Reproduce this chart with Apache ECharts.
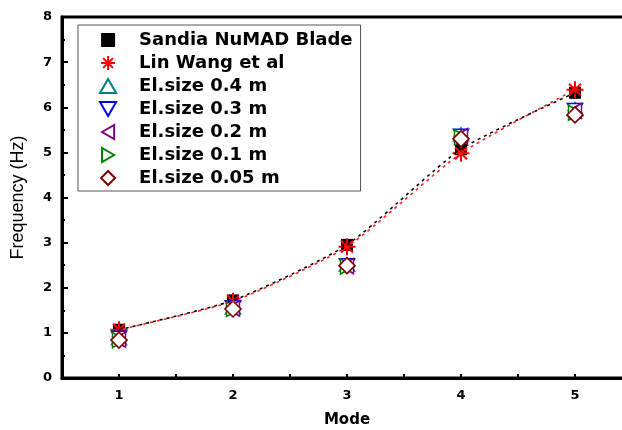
<!DOCTYPE html>
<html>
<head>
<meta charset="utf-8">
<script src="https://cdn.jsdelivr.net/npm/echarts@6/dist/echarts.min.js"></script>
<style>
  html, body { margin: 0; padding: 0; background: #fff; }
  #main { width: 622px; height: 430px; }
</style>
</head>
<body>
<div id="main"></div>
<script>
// modes on the x axis
var modes = ['1', '2', '3', '4', '5'];
var yTicks = [0, 1, 2, 3, 4, 5, 6, 7, 8];

// frequencies (Hz)
var sandia = [1.07, 1.72, 2.95, 5.07, 6.32];
var linWang = [1.07, 1.70, 2.91, 4.98, 6.39];
var el04 = [0.88, 1.56, 2.51, 5.40, 5.96];
var el03 = [0.89, 1.57, 2.50, 5.37, 5.94];
var el02 = [0.85, 1.54, 2.48, 5.36, 5.92];
var el01 = [0.84, 1.53, 2.47, 5.33, 5.88];
var el005 = [0.84, 1.53, 2.49, 5.30, 5.83];

// marker shapes (paths keep their aspect in the legend)
var asterisk = 'path://M0,-10L0,10M-10,0L10,0M-7,-7L7,7M-7,7L7,-7';
var square = 'path://M0,0L1,0L1,1L0,1Z';
var triUp = 'path://M0,-0.866L1,0.866L-1,0.866Z';
var triDown = 'path://M-1,-0.866L1,-0.866L0,0.866Z';
var triLeft = 'path://M-0.866,0L0.866,-1L0.866,1Z';
var triRight = 'path://M0.866,0L-0.866,-1L-0.866,1Z';
var diamond = 'path://M0,-1L1,0L0,1L-1,0Z';

var font = 'Liberation Sans, Arial, sans-serif';
var boldFont = 'DejaVu Sans, sans-serif';

var chart = echarts.init(document.getElementById('main'));

function hollow(name, data, symbol, color, size) {
    return {
        name: name,
        type: 'scatter',
        data: data,
        symbol: symbol,
        symbolSize: size,
        itemStyle: { color: '#fff', borderColor: color, borderWidth: 1.6, opacity: 1 }
    };
}

var option = {
    animation: false,
    backgroundColor: '#fff',
    grid: {
        left: 62, top: 17, right: -10, bottom: 52,
        outerBoundsMode: 'none', containLabel: false,
        show: true, borderColor: '#000', borderWidth: 3, backgroundColor: 'transparent'
    },
    legend: {
        orient: 'vertical',
        left: 78, top: 25,
        padding: [6, 8, 4, 21],
        itemWidth: 52, itemHeight: 14, itemGap: 5,
        symbolKeepAspect: true,
        borderColor: '#555', borderWidth: 1,
        textStyle: { fontFamily: boldFont, fontSize: 18, fontWeight: 'bold', color: '#000', lineHeight: 16 },
        data: ['Sandia NuMAD Blade', 'Lin Wang et al', 'El.size 0.4 m', 'El.size 0.3 m',
               'El.size 0.2 m', 'El.size 0.1 m', 'El.size 0.05 m']
    },
    xAxis: [{
        type: 'category',
        data: modes,
        boundaryGap: true,
        name: 'Mode',
        nameLocation: 'middle',
        nameGap: 35,
        nameTextStyle: { fontFamily: boldFont, fontSize: 15, fontWeight: 'bold', color: '#000' },
        axisLine: { lineStyle: { color: '#000', width: 3 } },
        axisTick: { alignWithLabel: true, inside: true, length: 7, lineStyle: { color: '#000', width: 2 } },
        axisLabel: { fontFamily: boldFont, fontSize: 13, fontWeight: 'bold', color: '#000', margin: 11 },
        splitLine: { show: false }
    }, {
        type: 'value',
        min: 0.5, max: 5.5, interval: 0.5,
        position: 'bottom',
        axisLine: { show: false },
        axisTick: { inside: true, length: 4, lineStyle: { color: '#000', width: 2 } },
        axisLabel: { show: false },
        splitLine: { show: false }
    }],
    yAxis: {
        type: 'value',
        min: yTicks[0], max: yTicks[yTicks.length - 1], interval: 1,
        name: 'Frequency (Hz)',
        nameLocation: 'middle',
        nameGap: 35,
        nameTextStyle: { fontFamily: font, fontSize: 18, color: '#000' },
        axisLine: { show: true, lineStyle: { color: '#000', width: 3 } },
        axisTick: { inside: true, length: 6, lineStyle: { color: '#000', width: 2 } },
        minorTick: { show: true, splitNumber: 2, length: 3, lineStyle: { color: '#000', width: 2 } },
        axisLabel: { fontFamily: boldFont, fontSize: 13, fontWeight: 'bold', color: '#000', margin: 10 },
        splitLine: { show: false }
    },
    series: [{
        type: 'line', data: sandia, smooth: 0.2, symbol: 'none', silent: true,
        lineStyle: { color: '#000', width: 1.6, type: [3, 4] }
    }, {
        type: 'line', data: linWang, smooth: 0.2, symbol: 'none', silent: true,
        lineStyle: { color: '#ff2020', width: 1.6, type: [3, 4], dashOffset: 3 }
    }, {
        name: 'Sandia NuMAD Blade', type: 'scatter', data: sandia,
        symbol: square, symbolSize: 12, itemStyle: { color: '#000', opacity: 1 }
    }, {
        name: 'Lin Wang et al', type: 'scatter', data: linWang,
        symbol: asterisk, symbolSize: 17,
        itemStyle: { color: '#ff0000', borderColor: '#ff0000', borderWidth: 2, opacity: 1 }
    },
        hollow('El.size 0.4 m', el04, triUp, '#008080', [15, 13]),
        hollow('El.size 0.3 m', el03, triDown, '#0000ff', [15, 13]),
        hollow('El.size 0.2 m', el02, triLeft, '#800080', [13, 15]),
        hollow('El.size 0.1 m', el01, triRight, '#008000', [13, 15]),
        hollow('El.size 0.05 m', el005, diamond, '#800000', 16)
    ]
};

chart.setOption(option);
</script>
</body>
</html>
